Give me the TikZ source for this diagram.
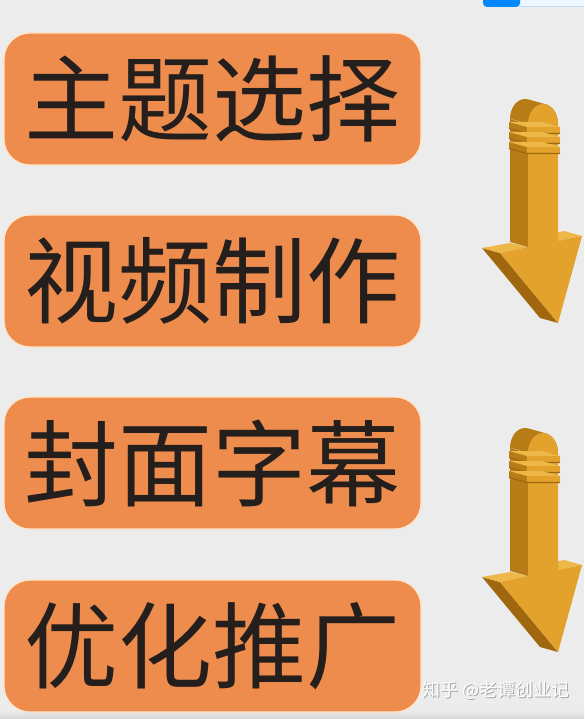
\documentclass[tikz,border=0pt]{standalone}
\usepackage{fontspec}
\newfontfamily\cjk{Noto Sans CJK SC}
\usepackage{tikz}
\usetikzlibrary{positioning}
\usepackage{xcolor}
\definecolor{bggray}{RGB}{236,236,236}
\definecolor{bgshade}{RGB}{214,214,214}
\definecolor{boxorange}{RGB}{238,140,78}
\definecolor{boxrim}{RGB}{255,228,200}
\definecolor{inkdark}{RGB}{36,30,28}
\definecolor{goldfront}{RGB}{226,162,44}
\definecolor{goldlight}{RGB}{238,184,72}
\definecolor{goldside}{RGB}{184,124,22}
\definecolor{golddark}{RGB}{160,104,14}
\definecolor{uiblue}{RGB}{0,136,255}
\definecolor{uipale}{RGB}{236,247,255}
\definecolor{uiline}{RGB}{190,220,245}
\tikzstyle{stagebox} = [rectangle, rounded corners=26pt, minimum width=417pt, minimum height=132pt, fill=boxorange, draw=boxrim, line width=1.2pt, text=inkdark, font=\cjk\fontsize{94}{94}\selectfont, inner sep=0pt]
\tikzstyle{watermark} = [font=\cjk\fontsize{18}{18}\selectfont, inner sep=0pt]

\newcommand{\goldarrow}[1]{%
\begin{scope}[shift={(0,#1)}]
% head: left face and shoulders
\fill[golddark] (500,253) -- (482,248) -- (540,318) -- (558,323) -- cycle;
\fill[goldlight] (482,248) -- (510,243) -- (528,247) -- (500,253) -- cycle;
\fill[goldlight] (558,241) -- (582,236) -- (564,231) -- (540,236) -- cycle;
% shaft
\fill[goldside] (528,124) -- (510,119) -- (510,242) -- (528,247) -- cycle;
\fill[goldfront] (528,124) -- (558,124) -- (558,241) -- (582,236) -- (558,323) -- (500,253) -- (528,247) -- cycle;
% cap
\foreach \sh in {0,2,...,18}
  \fill[goldside] ({525+\sh},{119+\sh*5/18}) ++(-15,0) arc[start angle=180, end angle=360, x radius=15, y radius=20] -- cycle;
\fill[goldfront] (528,124) arc[start angle=180, end angle=360, x radius=15, y radius=20] -- cycle;
% rings
\foreach \ry in {127,137,147} {
  \fill[goldside] (527,\ry) -- (509,\ry-5) -- (509,\ry+1) -- (527,\ry+6) -- cycle;
  \fill[goldlight] (527,\ry) -- (560,\ry) -- (542,\ry-5) -- (509,\ry-5) -- cycle;
  \fill[goldfront] (527,\ry) rectangle (560,\ry+6);
  \draw[golddark, line width=1.2pt] (509,\ry+1.5) -- (527,\ry+6.5) -- (560,\ry+6.5);
}
\end{scope}}

\begin{document}
\begin{tikzpicture}[x=1pt, y=-1pt]
\useasboundingbox (0,0) rectangle (584,719);
% page
\fill[bggray] (0,0) rectangle (584,719);
\shade[top color=bggray, bottom color=bgshade] (0,710) rectangle (584,719);
% top bar bits
\fill[uipale] (519,0) rectangle (584,6);
\draw[uiline] (519,6.5) -- (584,6.5);
\fill[uiblue, rounded corners=4pt] (483,-6) rectangle (520,7);

% Steps
\node (sel) [stagebox] at (212.5,99) {主题选择};
\node (vid) [stagebox, below of=sel, node distance=182pt] {视频制作};
\node (cov) [stagebox, below of=vid, node distance=182pt] {封面字幕};
\node (pro) [stagebox, below of=cov, node distance=183pt] {优化推广};

% Arrows
\goldarrow{0}
\goldarrow{329}

% Watermark
\node (markbg) [watermark, text=gray!70] at (497,691) {知乎 @老谭创业记};
\node (mark) [watermark, text=white] at (496,690) {知乎 @老谭创业记};
\end{tikzpicture}
\end{document}
